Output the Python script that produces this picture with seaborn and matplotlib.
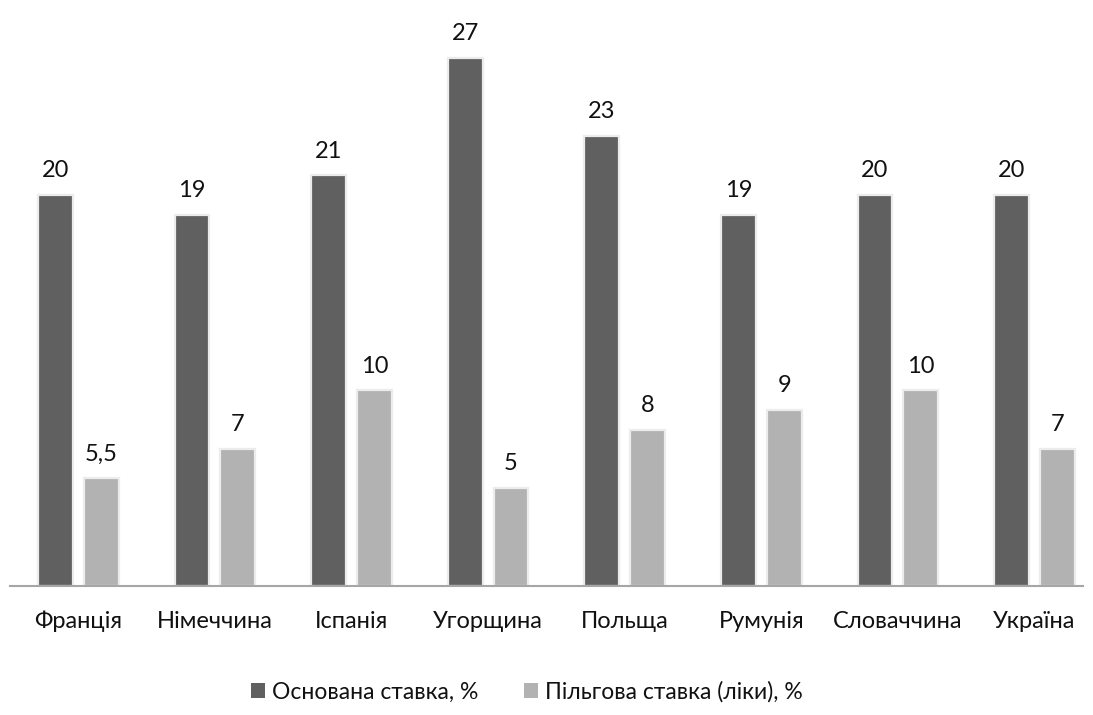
import matplotlib
matplotlib.use("Agg")
import matplotlib.pyplot as plt
import seaborn as sns
import pandas as pd
from matplotlib.patches import Patch

countries = ["Франція", "Німеччина", "Іспанія", "Угорщина", "Польща",
             "Румунія", "Словаччина", "Україна"]
base_rate = [20, 19, 21, 27, 23, 19, 20, 20]
reduced_rate = [5.5, 7, 10, 5, 8, 9, 10, 7]
series_names = ["Основана ставка, %", "Пільгова ставка (ліки), %"]
colors = ["#606060", "#b2b2b2"]

df = pd.DataFrame({
    "country": countries * 2,
    "value": base_rate + reduced_rate,
    "series": [series_names[0]] * len(countries) + [series_names[1]] * len(countries),
})

sns.set_theme(style="white")
plt.rcParams["font.family"] = ["Lato", "DejaVu Sans"]

W, H = 1093, 715
slot = 136.6
fig = plt.figure(figsize=(W / 100, H / 100), dpi=100)
ax = fig.add_axes([10 / W, 1 - 586 / H, 8 * slot / W, 567 / H])

sns.barplot(data=df, x="country", y="value", hue="series", order=countries,
            hue_order=series_names, palette=colors, width=0.67, gap=0.24,
            edgecolor="#ececec", linewidth=1.6, ax=ax, legend=False)

ax.set_ylim(0, 29)
ax.set_xlim(-0.5, len(countries) - 0.5)
ax.set_xlabel("")
ax.set_ylabel("")
ax.set_yticks([])
for side in ["left", "right", "top"]:
    ax.spines[side].set_visible(False)
ax.spines["bottom"].set_color("#a6a6a6")
ax.spines["bottom"].set_linewidth(1.5)
ax.spines["bottom"].set_bounds(-0.5, (1083 - 10) / slot - 0.5)
ax.tick_params(axis="x", length=0, pad=18, labelsize=17, labelcolor="#111111")

def fmt(v):
    return f"{v:g}".replace(".", ",")

for cont in ax.containers:
    ax.bar_label(cont, labels=[fmt(b.get_height()) for b in cont],
                 padding=10, fontsize=17, color="#111111", clip_on=False)

handles = [Patch(facecolor=c, edgecolor="none") for c in colors]
fig.legend(handles, series_names, loc="center", bbox_to_anchor=(527 / W, 1 - 692 / H),
           ncol=2, frameon=False, fontsize=16.5, handlelength=0.6, handleheight=0.6,
           handletextpad=0.3, columnspacing=2.0, labelcolor="#111111")

fig.savefig("out.png", dpi=100)
